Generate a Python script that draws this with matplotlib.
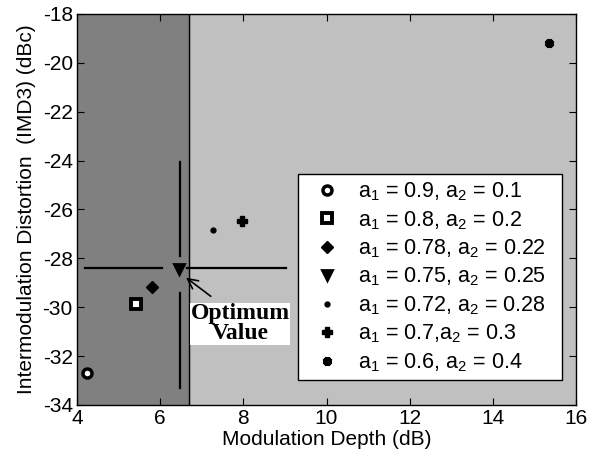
import matplotlib
matplotlib.use("Agg")
import matplotlib.pyplot as plt

plt.rcParams['font.family'] = ['Liberation Sans', 'DejaVu Sans']
plt.rcParams['mathtext.fontset'] = 'custom'
plt.rcParams['mathtext.rm'] = 'Liberation Sans'
plt.rcParams['mathtext.it'] = 'Liberation Sans'
plt.rcParams['axes.unicode_minus'] = False

# data
labels = [r'a$_1$ = 0.9, a$_2$ = 0.1', r'a$_1$ = 0.8, a$_2$ = 0.2',
          r'a$_1$ = 0.78, a$_2$ = 0.22', r'a$_1$ = 0.75, a$_2$ = 0.25',
          r'a$_1$ = 0.72, a$_2$ = 0.28', r'a$_1$ = 0.7,a$_2$ = 0.3',
          r'a$_1$ = 0.6, a$_2$ = 0.4']
mod_depth = [4.24, 5.42, 5.80, 6.45, 7.28, 7.97, 15.35]
imd3 = [-32.7, -29.87, -29.16, -28.45, -26.84, -26.46, -19.2]
markers = ['o', 's', 'D', 'v', 'o', 'P', (8, 2, 0)]
sizes = [6.5, 7, 6.5, 7, 3.5, 7, 6.5]
mfc = ['white', 'white', 'black', 'black', 'black', 'black', 'black']
mew = [2.5, 2.8, 1, 2, 1, 1, 3]

optimum_x = 6.48
optimum_y = -28.4
region_edge = 6.7

fig = plt.figure(figsize=(5.9, 4.62), dpi=100)
ax = fig.add_axes([0.1305, 0.1234, 0.8458, 0.8463])
ax.set_facecolor('#c0c0c0')
ax.axvspan(4, region_edge, color='#808080', zorder=0)
ax.axvline(region_edge, color='black', lw=1, zorder=1)

# crosshair
ax.plot([4.19, 6.04], [optimum_y, optimum_y], color='black', lw=1.6, zorder=2)
ax.plot([6.64, 9.02], [optimum_y, optimum_y], color='black', lw=1.6, zorder=2)
ax.plot([optimum_x, optimum_x], [-24.04, -27.9], color='black', lw=1.6, zorder=2)
ax.plot([optimum_x, optimum_x], [-29.4, -33.3], color='black', lw=1.6, zorder=2)

handles = []
for x, y, m, s, fc, w, lab in zip(mod_depth, imd3, markers, sizes, mfc, mew, labels):
    h, = ax.plot([x], [y], linestyle='none', marker=m, markersize=s,
                 markerfacecolor=fc, markeredgecolor='black', markeredgewidth=w,
                 label=lab, zorder=3)
    handles.append(h)

ax.annotate('', xy=(6.57, -28.72), xytext=(7.27, -29.62),
            arrowprops=dict(arrowstyle='->', color='black', lw=1.2,
                            mutation_scale=18), zorder=4)
ax.text(7.92, -30.68, 'Optimum\nValue', ha='center', va='center',
        fontsize=17, fontweight='bold', family='Liberation Serif',
        linespacing=0.95,
        bbox=dict(facecolor='white', edgecolor='none', pad=0.3), zorder=4)

ax.set_xlim(4, 16)
ax.set_ylim(-34, -18)
ax.set_xticks(range(4, 17, 2))
ax.set_yticks(range(-34, -17, 2))
ax.tick_params(direction='in', top=True, right=True, labelsize=15, length=5, pad=3)
for sp in ax.spines.values():
    sp.set_linewidth(1)
ax.set_xlabel('Modulation Depth (dB)', fontsize=15, labelpad=1)
ax.set_ylabel('Intermodulation Distortion  (IMD3) (dBc)', fontsize=15, labelpad=5)

leg = ax.legend(handles=handles, loc='upper left', mode='expand',
                bbox_to_anchor=(0.443, 0.0665, 0.529, 0.524),
                fontsize=15.5, frameon=True, fancybox=False, framealpha=1,
                edgecolor='black', labelspacing=0.27, handletextpad=0.4,
                borderpad=0.3, handlelength=2.1, borderaxespad=0)
leg.get_frame().set_linewidth(1)

fig.savefig('out.png', dpi=100)
